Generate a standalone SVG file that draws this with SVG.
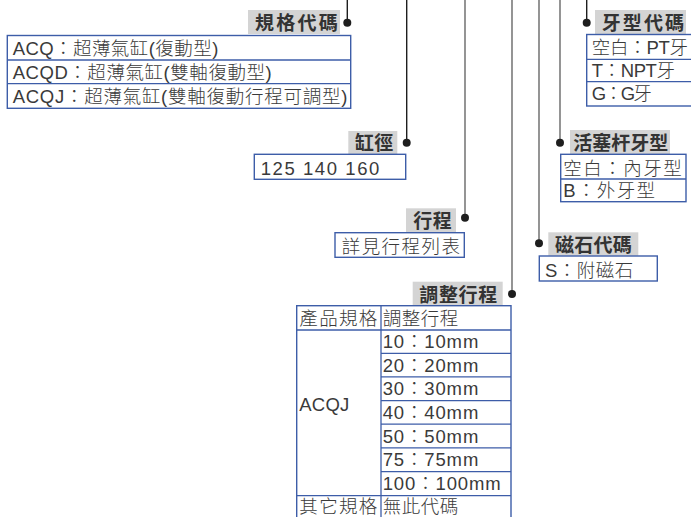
<svg xmlns="http://www.w3.org/2000/svg" width="691" height="517" viewBox="0 0 691 517">
<style>
.bg{fill:#ffffff}
.lab{fill:#d4d4d4}
.lt{font-family:"Liberation Sans","Noto Sans CJK TC",sans-serif;font-size:19px;font-weight:bold;fill:#333333}
.tx{font-family:"Liberation Sans","Noto Sans CJK TC",sans-serif;font-size:18.5px;font-weight:300;fill:#3a3a3a}
.box{fill:none;stroke:#3d5da8;stroke-width:1.4}
.ln{stroke:#3d5da8;stroke-width:1.3}
.ck{stroke:#1e1e1e;stroke-width:1.4;fill:none}
.cg{stroke:#7a7a7a;stroke-width:1.6;fill:none}
.dot{fill:#1e1e1e}
</style>
<rect class="bg" x="0" y="0" width="691" height="517"/>
<g id="connectors">
<line class="ck" x1="347.3" y1="0" x2="347.3" y2="22.7"/>
<line class="ck" x1="406.7" y1="0" x2="406.7" y2="142.7"/>
<line class="cg" x1="465" y1="0" x2="465" y2="217.7"/>
<line class="cg" x1="512" y1="0" x2="512" y2="294"/>
<line class="cg" x1="539" y1="0" x2="539" y2="243.3"/>
<line class="cg" x1="560" y1="0" x2="560" y2="142.7"/>
<line class="ck" x1="586.7" y1="0" x2="586.7" y2="22.7"/>
<circle class="dot" cx="347.3" cy="22.7" r="4"/>
<circle class="dot" cx="406.7" cy="142.7" r="4"/>
<circle class="dot" cx="465" cy="217.7" r="4"/>
<circle class="dot" cx="512" cy="294" r="4"/>
<circle class="dot" cx="539" cy="243.3" r="4"/>
<circle class="dot" cx="560" cy="142.7" r="4"/>
<circle class="dot" cx="586.7" cy="22.7" r="4"/>
</g>
<g id="model-code">
<rect class="lab" x="248" y="10" width="92" height="24"/>
<text class="lt" x="255" y="30" textLength="82.7">規格代碼</text>
<rect class="box" x="7.3" y="35.5" width="343.4" height="72.8"/>
<line class="ln" x1="7.3" y1="60" x2="350.7" y2="60"/>
<line class="ln" x1="7.3" y1="83.6" x2="350.7" y2="83.6"/>
<text class="tx" x="12.7" y="55" textLength="205.6">ACQ：超薄氣缸(復動型)</text>
<text class="tx" x="12.7" y="79.3" textLength="259">ACQD：超薄氣缸(雙軸復動型)</text>
<text class="tx" x="12.7" y="103.3" textLength="334.6">ACQJ：超薄氣缸(雙軸復動行程可調型)</text>
</g>
<g id="thread-code">
<rect class="lab" x="595" y="10" width="91" height="24"/>
<text class="lt" x="601.7" y="30" textLength="82.3">牙型代碼</text>
<rect class="box" x="586.7" y="34.5" width="110" height="71.5"/>
<line class="ln" x1="586.7" y1="59.3" x2="691" y2="59.3"/>
<line class="ln" x1="586.7" y1="81.7" x2="691" y2="81.7"/>
<text class="tx" x="591.7" y="53.5" textLength="96.3">空白：PT牙</text>
<text class="tx" x="591.7" y="76.5" textLength="83.3">T：NPT牙</text>
<text class="tx" x="591.7" y="100" textLength="60">G：G牙</text>
</g>
<g id="bore">
<rect class="lab" x="348.3" y="131" width="49" height="23"/>
<text class="lt" x="355" y="150" textLength="38.3">缸徑</text>
<rect class="box" x="254.3" y="154.3" width="151.4" height="25"/>
<text class="tx" x="260.7" y="175" textLength="118.6">125 140 160</text>
</g>
<g id="stroke">
<rect class="lab" x="406" y="208.3" width="50" height="24"/>
<text class="lt" x="413.3" y="228.3" textLength="38.4">行程</text>
<rect class="box" x="335" y="232.7" width="129.3" height="24.6"/>
<text class="tx" x="341.7" y="253.3" textLength="118.3">詳見行程列表</text>
</g>
<g id="rod-thread">
<rect class="lab" x="570" y="130" width="100" height="24"/>
<text class="lt" x="573.3" y="150" textLength="95">活塞杆牙型</text>
<rect class="box" x="560.7" y="154.3" width="125.3" height="47.4"/>
<line class="ln" x1="560.7" y1="179" x2="686" y2="179"/>
<text class="tx" x="563.3" y="175" textLength="118.4">空白：內牙型</text>
<text class="tx" x="563.3" y="197.3" textLength="91.7">B：外牙型</text>
</g>
<g id="magnet-code">
<rect class="lab" x="548.3" y="232.3" width="90" height="23.4"/>
<text class="lt" x="555" y="251.7" textLength="76.7">磁石代碼</text>
<rect class="box" x="539.3" y="256" width="118" height="25"/>
<text class="tx" x="545" y="276.7" textLength="88.3">S：附磁石</text>
</g>
<g id="adjust-stroke">
<rect class="lab" x="412.7" y="281.7" width="90" height="24"/>
<text class="lt" x="419.3" y="301.7" textLength="78">調整行程</text>
<rect class="box" x="296.7" y="305.7" width="214.3" height="215"/>
<line class="ln" x1="381" y1="305.7" x2="381" y2="520"/>
<line class="ln" x1="296.7" y1="330" x2="511" y2="330"/>
<line class="ln" x1="381" y1="353.3" x2="511" y2="353.3"/>
<line class="ln" x1="381" y1="376.9" x2="511" y2="376.9"/>
<line class="ln" x1="381" y1="400.6" x2="511" y2="400.6"/>
<line class="ln" x1="381" y1="424.2" x2="511" y2="424.2"/>
<line class="ln" x1="381" y1="447.9" x2="511" y2="447.9"/>
<line class="ln" x1="381" y1="471.6" x2="511" y2="471.6"/>
<line class="ln" x1="296.7" y1="495.6" x2="511" y2="495.6"/>
<text class="tx" x="299.3" y="325" textLength="78">產品規格</text>
<text class="tx" x="382.7" y="325" textLength="75.6">調整行程</text>
<text class="tx" x="299.3" y="411" textLength="50">ACQJ</text>
<text class="tx" x="382.7" y="348.3" textLength="95.6">10：10mm</text>
<text class="tx" x="382.7" y="371.8" textLength="95.6">20：20mm</text>
<text class="tx" x="382.7" y="395.3" textLength="95.6">30：30mm</text>
<text class="tx" x="382.7" y="419" textLength="95.6">40：40mm</text>
<text class="tx" x="382.7" y="442.7" textLength="95.6">50：50mm</text>
<text class="tx" x="382.7" y="466.3" textLength="95.6">75：75mm</text>
<text class="tx" x="382.7" y="489.8" textLength="118">100：100mm</text>
<text class="tx" x="299.3" y="513.3" textLength="78">其它規格</text>
<text class="tx" x="382.7" y="513.3" textLength="75.6">無此代碼</text>
</g>
</svg>
